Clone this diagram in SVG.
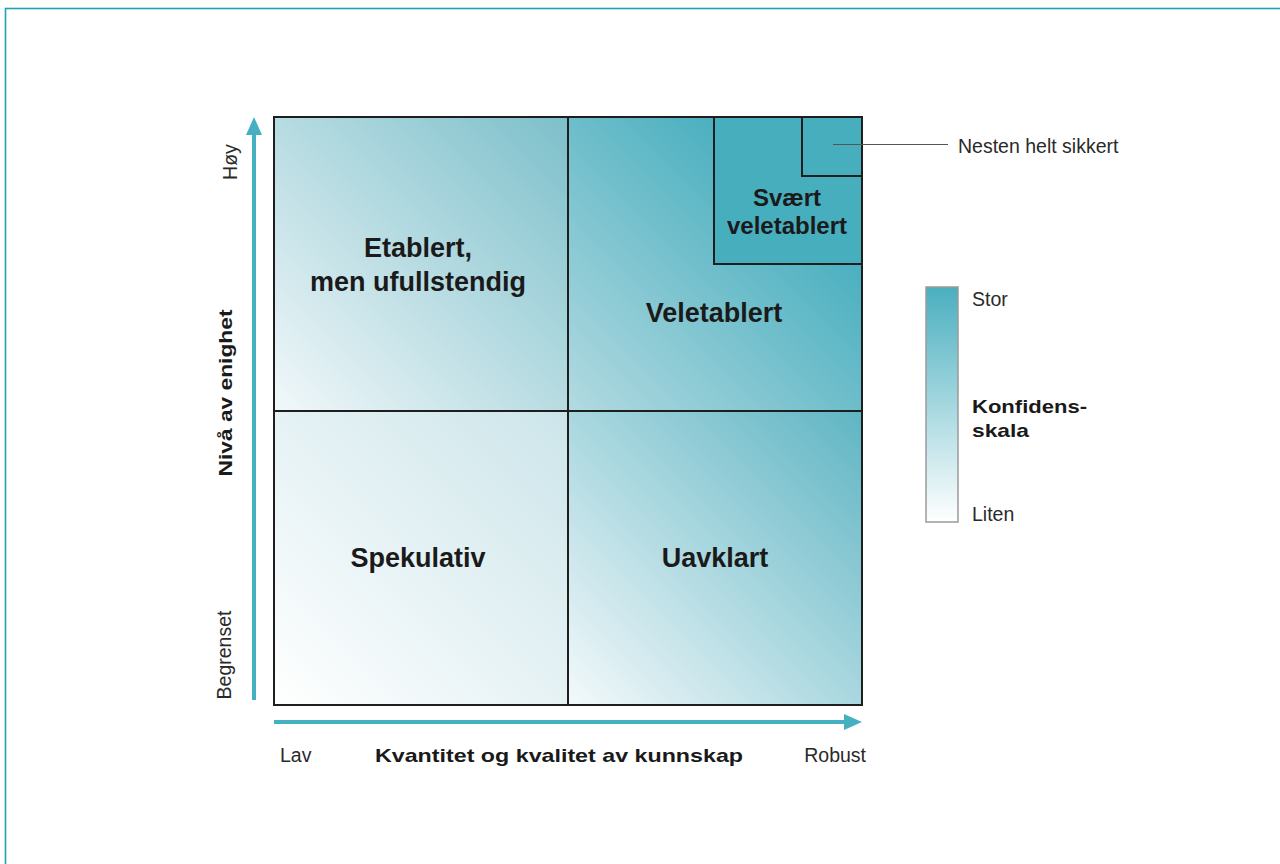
<svg xmlns="http://www.w3.org/2000/svg" width="1280" height="864" viewBox="0 0 1280 864">
  <style>
    text { font-family: "Liberation Sans", Arial, sans-serif; fill: #1a1a1a; }
    .q { font-size: 27px; font-weight: bold; text-anchor: middle; }
    .qs { font-size: 24px; font-weight: bold; text-anchor: middle; }
    .ax { font-size: 19px; font-weight: bold; }
    .lbl { font-size: 19.5px; fill: #2a2a2a; }
    .cell { stroke: #1e1e1e; stroke-width: 2; }
    .axis { stroke: #45b0bf; stroke-width: 4; fill: none; }
    .head { fill: #45b0bf; }
  </style>
  <defs>
    <!-- each quadrant shades from its lower-left corner to its upper-right corner -->
    <linearGradient id="gTL" x1="0" y1="1" x2="1" y2="0">
      <stop offset="0" stop-color="#f2f8fa"/>
      <stop offset="1" stop-color="#7cbfca"/>
    </linearGradient>
    <linearGradient id="gTR" x1="0" y1="1" x2="1" y2="0">
      <stop offset="0" stop-color="#b3dae1"/>
      <stop offset="0.75" stop-color="#4aafbf"/>
      <stop offset="1" stop-color="#42abbc"/>
    </linearGradient>
    <linearGradient id="gBL" x1="0" y1="1" x2="1" y2="0">
      <stop offset="0" stop-color="#ffffff"/>
      <stop offset="1" stop-color="#cce5ea"/>
    </linearGradient>
    <linearGradient id="gBR" x1="0" y1="1" x2="1" y2="0">
      <stop offset="0" stop-color="#f4f9fb"/>
      <stop offset="1" stop-color="#5fb5c3"/>
    </linearGradient>
    <linearGradient id="gScale" x1="0" y1="0" x2="0" y2="1">
      <stop offset="0" stop-color="#4aafbf"/>
      <stop offset="1" stop-color="#ffffff"/>
    </linearGradient>
  </defs>

  <rect width="1280" height="864" fill="#ffffff"/>
  <!-- page frame -->
  <rect x="5.5" y="8.5" width="1300" height="900" fill="none" stroke="#1ba3b4" stroke-width="1.6"/>

  <!-- quadrants -->
  <g id="etablert">
    <rect class="cell" x="274" y="117" width="294" height="294" fill="url(#gTL)"/>
    <text class="q" x="418" y="257">Etablert,</text>
    <text class="q" x="418" y="291">men ufullstendig</text>
  </g>
  <g id="veletablert">
    <rect class="cell" x="568" y="117" width="294" height="294" fill="url(#gTR)"/>
    <text class="q" x="714" y="322">Veletablert</text>
  </g>
  <g id="spekulativ">
    <rect class="cell" x="274" y="411" width="294" height="294" fill="url(#gBL)"/>
    <text class="q" x="418" y="567">Spekulativ</text>
  </g>
  <g id="uavklart">
    <rect class="cell" x="568" y="411" width="294" height="294" fill="url(#gBR)"/>
    <text class="q" x="715" y="567">Uavklart</text>
  </g>
  <g id="svaert-veletablert">
    <rect class="cell" x="714" y="117" width="148" height="147" fill="#47aebe"/>
    <text class="qs" x="787" y="206">Svært</text>
    <text class="qs" x="787" y="234">veletablert</text>
  </g>
  <g id="nesten-helt-sikkert">
    <rect class="cell" x="802" y="117" width="60" height="59" fill="#47aebe"/>
    <text class="lbl" x="958" y="153">Nesten helt sikkert</text>
  </g>

  <!-- axes and leader line -->
  <g id="connectors">
    <line class="axis" x1="254" y1="700" x2="254" y2="132"/>
    <polygon class="head" points="254,117 246,135 262,135"/>
    <line class="axis" x1="274" y1="722" x2="846" y2="722"/>
    <polygon class="head" points="862,722 844,714 844,730"/>
    <line x1="833" y1="144.5" x2="948" y2="144.5" stroke="#555" stroke-width="1.2"/>
  </g>

  <!-- axis labels -->
  <g id="y-axis">
    <text class="lbl" transform="translate(237,162) rotate(-90)" text-anchor="middle">Høy</text>
    <text class="ax" transform="translate(232,393) rotate(-90)" text-anchor="middle" textLength="167" lengthAdjust="spacingAndGlyphs">Nivå av enighet</text>
    <text class="lbl" transform="translate(231,655) rotate(-90)" text-anchor="middle">Begrenset</text>
  </g>
  <g id="x-axis">
    <text class="lbl" x="280" y="762">Lav</text>
    <text class="ax" x="375" y="762" textLength="368" lengthAdjust="spacingAndGlyphs">Kvantitet og kvalitet av kunnskap</text>
    <text class="lbl" x="866" y="762" text-anchor="end">Robust</text>
  </g>

  <!-- confidence scale -->
  <g id="konfidensskala">
    <rect x="926" y="287" width="32" height="235" fill="url(#gScale)" stroke="#9a9a9a" stroke-width="1.5"/>
    <text class="lbl" x="972" y="306">Stor</text>
    <text class="ax" x="972" y="413" textLength="115" lengthAdjust="spacingAndGlyphs">Konfidens-</text>
    <text class="ax" x="972" y="437" textLength="57" lengthAdjust="spacingAndGlyphs">skala</text>
    <text class="lbl" x="972" y="521">Liten</text>
  </g>
</svg>
